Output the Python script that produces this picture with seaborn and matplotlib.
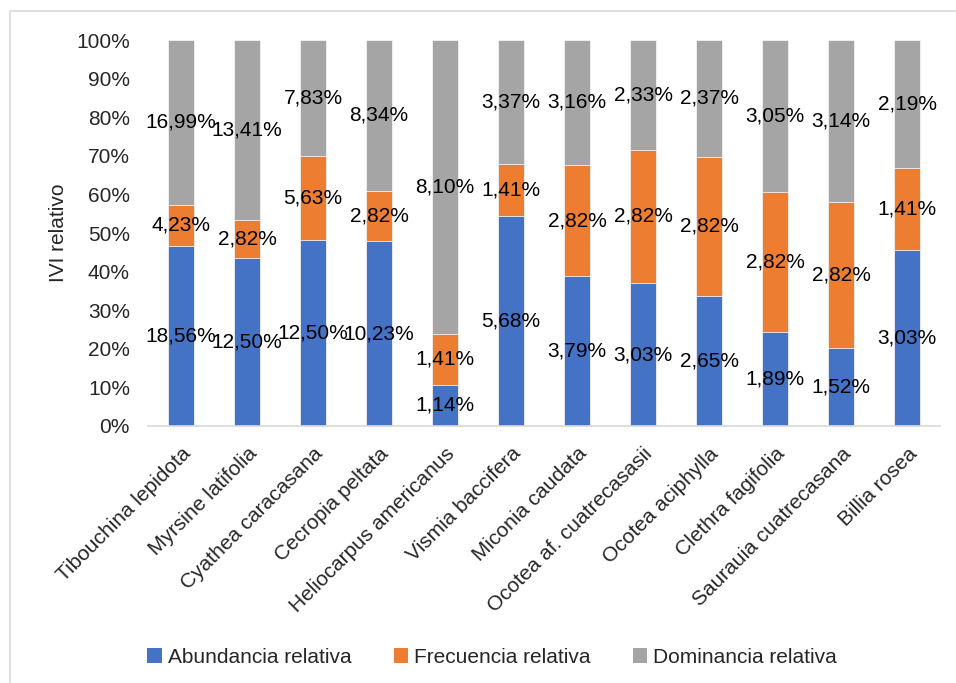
import pandas as pd
import seaborn as sns
import matplotlib.pyplot as plt
from matplotlib.patches import Patch, Rectangle

species = ["Tibouchina lepidota", "Myrsine latifolia", "Cyathea caracasana",
           "Cecropia peltata", "Heliocarpus americanus", "Vismia baccifera",
           "Miconia caudata", "Ocotea af. cuatrecasasii", "Ocotea aciphylla",
           "Clethra fagifolia", "Saurauia cuatrecasana", "Billia rosea"]
abundancia = [18.56, 12.50, 12.50, 10.23, 1.14, 5.68, 3.79, 3.03, 2.65, 1.89, 1.52, 3.03]
frecuencia = [4.23, 2.82, 5.63, 2.82, 1.41, 1.41, 2.82, 2.82, 2.82, 2.82, 2.82, 1.41]
dominancia = [16.99, 13.41, 7.83, 8.34, 8.10, 3.37, 3.16, 2.33, 2.37, 3.05, 3.14, 2.19]

series = ["Abundancia relativa", "Frecuencia relativa", "Dominancia relativa"]
colores = ["#4472C4", "#ED7D31", "#A5A5A5"]

sns.set_theme(style="white")
plt.rcParams['font.family'] = ['Liberation Sans', 'DejaVu Sans']
FS = 15

df = pd.DataFrame({"especie": species, "ab": abundancia, "fr": frecuencia, "do": dominancia})
total = df["ab"] + df["fr"] + df["do"]
df["c1"] = df["ab"] / total
df["c2"] = (df["ab"] + df["fr"]) / total
df["c3"] = (df["ab"] + df["fr"] + df["do"]) / total

fig = plt.figure(figsize=(9.56, 6.83), dpi=100)
ax = fig.add_axes([0.1548, 0.3763, 0.8285, 0.5651])

# capas apiladas: primero el total, luego encima las acumuladas menores
for col, color in zip(["c3", "c2", "c1"], colores[::-1]):
    sns.barplot(data=df, x="especie", y=col, color=color, width=0.40,
                saturation=1, edgecolor="#F2F2F2", linewidth=0.6, ax=ax)

# etiquetas de datos centradas en cada segmento
for i, row in df.iterrows():
    segs = [(0, row["c1"], row["ab"]), (row["c1"], row["c2"], row["fr"]),
            (row["c2"], row["c3"], row["do"])]
    for lo, hi, val in segs:
        ax.text(i, (lo + hi) / 2, f"{val:.2f}%".replace(".", ","),
                ha="center", va="center", fontsize=FS, color="black")

ax.set_ylim(0, 1)
ax.set_xlim(-0.5, len(species) - 0.5)
ax.set_yticks([i / 10 for i in range(11)])
ax.set_yticklabels([f"{i * 10}%" for i in range(11)], fontsize=FS)
ax.set_xticks(range(len(species)))
ax.set_xticklabels(species, rotation=45, ha="right", rotation_mode="anchor", fontsize=FS)
ax.set_xlabel("")
ax.set_ylabel("IVI relativo", fontsize=FS, labelpad=6)
ax.tick_params(axis="y", length=0, pad=13)
ax.tick_params(axis="x", length=0, pad=13)
sns.despine(ax=ax, left=True)
ax.spines["bottom"].set_color("#D9D9D9")
ax.spines["bottom"].set_linewidth(1.2)

handles = [Patch(facecolor=c, edgecolor="none") for c in colores]
fig.legend(handles, series, loc="center", bbox_to_anchor=(0.515, 0.038), ncol=3,
           frameon=False, fontsize=FS, handlelength=0.7, handleheight=0.7,
           handletextpad=0.3, columnspacing=2.0)

# marco del área del gráfico (recortado a la derecha y abajo)
fig.patches.append(Rectangle((9.5 / 956, -0.05), 1.0, 1.05 - 11 / 683,
                             transform=fig.transFigure, fill=False,
                             edgecolor="#D9D9D9", linewidth=1.2))

fig.savefig("out.png", dpi=100)
